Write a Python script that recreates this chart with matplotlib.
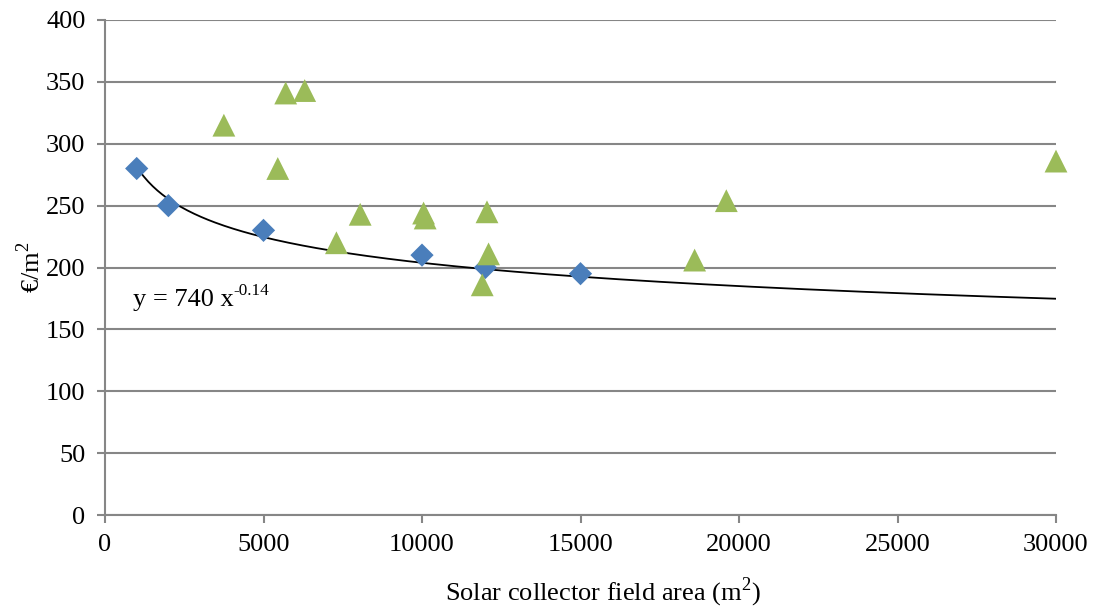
import numpy as np
import matplotlib
matplotlib.use("Agg")
import matplotlib.pyplot as plt
from matplotlib.transforms import offset_copy

plt.rcParams['font.family'] = ['Liberation Serif', 'DejaVu Serif']
plt.rcParams['mathtext.fontset'] = 'custom'
plt.rcParams['mathtext.rm'] = 'Liberation Serif'

# blue diamonds (reference plants)
area_blue = [1000, 2000, 5000, 10000, 12000, 15000]
cost_blue = [280, 250, 230, 210, 200, 195]

# green triangles
area_green = [3750, 5700, 6300, 5450, 7300, 8050, 10050, 10100, 12050, 12100,
              11900, 18600, 19600, 30000]
cost_green = [315, 341, 343, 280, 220, 243, 244, 240, 245, 211,
              186, 206, 254, 286]

# power-law fit shown on the chart
fit_a = 740
fit_b = -0.14

grid_col = '#868686'
fs = 19

fig = plt.figure(figsize=(10.94, 6.08), dpi=100)
ax = fig.add_axes([105 / 1094, 1 - 515 / 608, (1056 - 105) / 1094, (515 - 20) / 608])

ax.set_xlim(0, 30000)
ax.set_ylim(0, 400)
ax.set_xticks(np.arange(0, 30001, 5000))
ax.set_yticks(np.arange(0, 401, 50))
ax.yaxis.grid(True, color=grid_col, linewidth=1.5)
ax.set_axisbelow(True)

for s in ['top', 'right']:
    ax.spines[s].set_visible(False)
for s in ['left', 'bottom']:
    ax.spines[s].set_color(grid_col)
    ax.spines[s].set_linewidth(1.5)
ax.tick_params(axis='both', colors=grid_col, labelcolor='black', labelsize=fs,
               length=6, width=1.5, direction='out')
ax.tick_params(axis='y', pad=8)
ax.tick_params(axis='x', pad=8)

xs = np.linspace(1000, 30000, 400)
ax.plot(xs, fit_a * xs ** fit_b, color='black', linewidth=1.3, zorder=3)

ax.scatter(area_blue, cost_blue, marker='D', s=140, color='#4a7ebb',
           edgecolors='none', zorder=4, clip_on=False)
ax.scatter(area_green, cost_green, marker='^', s=270, color='#9bbb59',
           edgecolors='none', zorder=4, clip_on=False)

# equation label, superscript as its own text so the hyphen stays a hyphen
t1 = ax.text(880, 169, 'y = 740 x', fontsize=fs, va='baseline', ha='left')
fig.canvas.draw()
bb = t1.get_window_extent()
w = bb.width * 72 / fig.dpi
ax.text(880, 169, '-0.14', fontsize=fs * 0.65, va='baseline', ha='left',
        transform=offset_copy(ax.transData, fig=fig, x=w, y=8, units='points'))

ax.set_xlabel(r'Solar collector field area (m$^{\mathregular{2}}$)', fontsize=fs,
              labelpad=14, x=0.523)
ax.set_ylabel(r'€/m$^{\mathregular{2}}$', fontsize=fs, labelpad=1)

fig.savefig('out.png', dpi=100)
